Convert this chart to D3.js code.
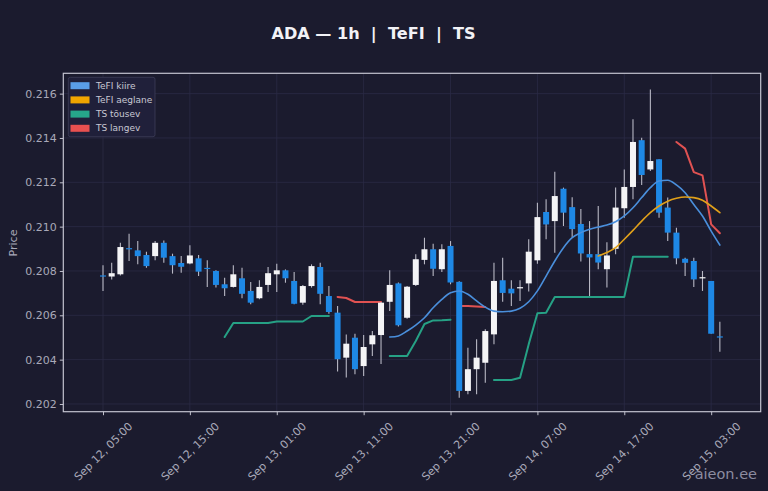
<!DOCTYPE html>
<html><head><meta charset="utf-8">
<script src="https://cdn.jsdelivr.net/npm/d3@7"></script>
<style>
html,body{margin:0;padding:0;background:#1b1b2e;}
svg{display:block;font-family:"DejaVu Sans",sans-serif;}
</style></head>
<body>
<svg id="c" width="768" height="491"></svg>
<script>
const title = "ADA \u2014 1h  |  TeFI  |  TS";
const startTime = "2025-09-12T05:00:00Z";
const tickLabels = ["Sep 12, 05:00","Sep 12, 15:00","Sep 13, 01:00","Sep 13, 11:00","Sep 13, 21:00","Sep 14, 07:00","Sep 14, 17:00","Sep 15, 03:00"];
const yTicks = [0.202,0.204,0.206,0.208,0.210,0.212,0.214,0.216];

const open = [0.20780,0.20775,0.20785,0.20903,0.20893,0.20872,0.20867,0.20927,0.20867,0.20836,
0.20834,0.20857,0.20814,0.20800,0.20740,0.20728,0.20767,0.20710,0.20677,0.20737,
0.20785,0.20803,0.20755,0.20657,0.20732,0.20818,0.20687,0.20612,0.20409,0.20499,
0.20371,0.20469,0.20511,0.20661,0.20744,0.20589,0.20737,0.20850,0.20898,0.20808,
0.20913,0.20751,0.20259,0.20357,0.20386,0.20514,0.20758,0.20720,0.20722,0.20744,
0.20848,0.21066,0.21025,0.21171,0.21088,0.21012,0.20876,0.20876,0.20808,0.20900,
0.21083,0.21179,0.21390,0.21258,0.21304,0.21086,0.20973,0.20855,0.20845,0.20768,
0.20755,0.20505];
const high = [0.20826,0.20837,0.20927,0.20968,0.20935,0.20887,0.20935,0.20938,0.20878,0.20867,
0.20916,0.20872,0.20848,0.20803,0.20770,0.20826,0.20815,0.20750,0.20758,0.20818,
0.20833,0.20807,0.20795,0.20737,0.20830,0.20837,0.20732,0.20642,0.20514,0.20517,
0.20511,0.20529,0.20660,0.20803,0.20748,0.20732,0.20875,0.20950,0.20923,0.20920,
0.20935,0.20754,0.20454,0.20492,0.20537,0.20837,0.20860,0.20758,0.20758,0.20943,
0.21108,0.21123,0.21248,0.21176,0.21133,0.21080,0.21025,0.21093,0.20930,0.21176,
0.21258,0.21484,0.21401,0.21619,0.21304,0.21131,0.20995,0.20860,0.20860,0.20800,
0.20755,0.20571];
const low = [0.20710,0.20762,0.20780,0.20845,0.20830,0.20815,0.20848,0.20837,0.20788,0.20792,
0.20830,0.20777,0.20728,0.20725,0.20687,0.20725,0.20677,0.20650,0.20672,0.20705,
0.20705,0.20747,0.20650,0.20648,0.20725,0.20650,0.20607,0.20346,0.20319,0.20334,
0.20326,0.20416,0.20380,0.20620,0.20550,0.20585,0.20732,0.20830,0.20777,0.20795,
0.20740,0.20228,0.20244,0.20244,0.20296,0.20469,0.20661,0.20642,0.20665,0.20707,
0.20833,0.20943,0.20882,0.21003,0.20953,0.20843,0.20687,0.20808,0.20725,0.20875,
0.21040,0.21123,0.21188,0.21251,0.21040,0.20935,0.20830,0.20777,0.20728,0.20710,
0.20517,0.20436];
const close = [0.20778,0.20790,0.20908,0.20898,0.20867,0.20822,0.20927,0.20860,0.20826,0.20819,
0.20870,0.20797,0.20810,0.20737,0.20722,0.20785,0.20697,0.20657,0.20728,0.20790,
0.20803,0.20767,0.20652,0.20732,0.20822,0.20697,0.20615,0.20402,0.20472,0.20357,
0.20457,0.20510,0.20657,0.20737,0.20555,0.20729,0.20853,0.20898,0.20810,0.20898,
0.20748,0.20259,0.20357,0.20409,0.20529,0.20755,0.20701,0.20699,0.20727,0.20887,
0.21043,0.21010,0.21138,0.21063,0.20989,0.20879,0.20861,0.20838,0.20870,0.21086,
0.21179,0.21382,0.21233,0.21296,0.21063,0.20973,0.20857,0.20837,0.20762,0.20772,
0.20517,0.20500];

const N = null;
const tefiFast = [N,N,N,N,N,N,N,N,N,N, N,N,N,N,N,N,N,N,N,N, N,N,N,N,N,N,N,N,N,N, N,N,N,
0.20502,0.20507,0.20529,0.20556,0.20589,0.20634,0.20672,0.20702,0.20710,0.20695,0.20665,
0.20637,0.20619,0.20616,0.20619,0.20632,0.20661,0.20710,0.20777,0.20845,0.20905,0.20950,
0.20973,0.20988,0.20998,0.21007,0.21022,0.21048,0.21085,0.21131,0.21176,0.21206,0.21209,
0.21188,0.21153,0.21100,0.21048,0.20980,0.20917];
const tefiSlow = [N,N,N,N,N,N,N,N,N,N, N,N,N,N,N,N,N,N,N,N, N,N,N,N,N,N,N,N,N,N,
N,N,N,N,N,N,N,N,N,N, N,N,N,N,N,N,N,N,N,N, N,N,N,N,N,N,N,
0.20868,0.20883,0.20905,0.20943,0.20983,0.21025,0.21063,0.21093,0.21115,0.21128,0.21134,
0.21131,0.21119,0.21093,0.21063];
const tsUp = [N,N,N,N,N,N,N,N,N,N, N,N,N,N,
0.20502,0.20565,0.20565,0.20565,0.20565,0.20565,0.20572,0.20572,0.20572,0.20572,
0.20597,0.20597,0.20597, N,N,N,N,N,N,
0.20417,0.20417,0.20417,0.20484,0.20561,0.20577,0.20578,0.20580, N,N,N,N,
0.20308,0.20308,0.20308,0.20318,0.20470,0.20609,0.20612,0.20683,0.20683,0.20683,
0.20683,0.20683,0.20683,0.20683,0.20683,0.20683,0.20864,0.20864,0.20864,0.20864,0.20864,
N,N,N,N,N,N];
const tsDown = [N,N,N,N,N,N,N,N,N,N, N,N,N,N,N,N,N,N,N,N, N,N,N,N,N,N,N,
0.20683,0.20678,0.20660,0.20660,0.20660,0.20660, N,N,N,N,N,N,N,N,
0.20642,0.20642,0.20640,0.20638, N,N,N,N,N,N,N,N,N,N, N,N,N,N,N,N,N,N,N,N,N,
0.21382,0.21352,0.21246,0.21231,0.21010,0.20970];

const legendItems = [
  {label:"TeFI kiire", color:"#5a9ee8"},
  {label:"TeFI aeglane", color:"#f0a500"},
  {label:"TS t\u00f5usev", color:"#26a68a"},
  {label:"TS langev", color:"#e85050"}
];

const svg = d3.select("#c");
const W = 768, H = 491;
const plot = {l:63.3, r:760.7, t:73.3, b:411.7};

const t0 = new Date(startTime);
const times = d3.utcHour.range(t0, d3.utcHour.offset(t0, open.length));
const HOUR = 3600e3;
const x = d3.scaleUtc()
  .domain([new Date(+t0 - 4.57*HOUR), new Date(+t0 + 75.7*HOUR)])
  .range([plot.l, plot.r]);
const y = d3.scaleLinear().domain([0.201652, 0.216917]).range([plot.b, plot.t]);

const parseTick = d3.utcParse("%Y %b %d, %H:%M");
const tickTimes = tickLabels.map(s => parseTick("2025 " + s));

svg.append("rect").attr("width",W).attr("height",H).attr("fill","#1b1b2e");

// grid
const g = svg.append("g");
g.selectAll(".gy").data(yTicks).join("line")
  .attr("x1",plot.l).attr("x2",plot.r)
  .attr("y1",d=>y(d)).attr("y2",d=>y(d))
  .attr("stroke","#2b2b45").attr("stroke-width",0.8);
g.selectAll(".gx").data(tickTimes).join("line")
  .attr("x1",d=>x(d)).attr("x2",d=>x(d))
  .attr("y1",plot.t).attr("y2",plot.b)
  .attr("stroke","#2b2b45").attr("stroke-width",0.8);

// axes
const yAxis = d3.axisLeft(y).tickValues(yTicks).tickFormat(d3.format(".3f")).tickSize(3.5).tickPadding(3);
const ya = svg.append("g").attr("transform",`translate(${plot.l},0)`).call(yAxis);
ya.select(".domain").remove();
ya.selectAll("line").attr("stroke","#c0c0cc");
ya.selectAll("text").attr("fill","#a9a9b9").attr("font-size",11).attr("font-family","DejaVu Sans");

const xAxis = d3.axisBottom(x).tickValues(tickTimes).tickFormat((d,i)=>tickLabels[i]).tickSize(3.5);
const xa = svg.append("g").attr("transform",`translate(0,${plot.b})`).call(xAxis);
xa.select(".domain").remove();
xa.selectAll("line").attr("stroke","#c0c0cc");
xa.selectAll("text")
  .attr("fill","#a9a9b9").attr("font-size",11).attr("font-family","DejaVu Sans")
  .attr("text-anchor","middle").attr("dominant-baseline","central")
  .attr("y",null).attr("dy",null)
  .attr("transform","translate(0,40) rotate(-45)");

// lines
const idx = d3.range(open.length);
function drawLine(arr, color, width, curve){
  const line = d3.line()
    .defined(i => arr[i] != null)
    .x(i => x(times[i])).y(i => y(arr[i]))
    .curve(curve);
  svg.append("path").datum(idx).attr("d",line)
    .attr("fill","none").attr("stroke",color).attr("stroke-width",width)
    .attr("stroke-linejoin","round").attr("stroke-linecap","round");
}
drawLine(tsUp, "#26a185", 2, d3.curveLinear);
drawLine(tsDown, "#e05252", 2, d3.curveLinear);

// candles
const bw = 6;
const cg = svg.append("g");
cg.selectAll("line.w").data(idx).join("line")
  .attr("x1",i=>x(times[i])).attr("x2",i=>x(times[i]))
  .attr("y1",i=>y(high[i])).attr("y2",i=>y(low[i]))
  .attr("stroke","#b8b8c4").attr("stroke-width",1.1);
cg.selectAll("rect.b").data(idx).join("rect")
  .attr("x",i=>x(times[i])-bw/2).attr("width",bw)
  .attr("y",i=>y(Math.max(open[i],close[i])))
  .attr("height",i=>Math.max(1.2, Math.abs(y(open[i])-y(close[i]))))
  .attr("fill",i=>close[i]>=open[i] ? "#f4f4f6" : "#1e88e5");

drawLine(tefiFast, "#4a8fdc", 1.6, d3.curveMonotoneX);
drawLine(tefiSlow, "#e0a01a", 1.6, d3.curveMonotoneX);

// frame
svg.append("rect").attr("x",plot.l).attr("y",plot.t)
  .attr("width",plot.r-plot.l).attr("height",plot.b-plot.t)
  .attr("fill","none").attr("stroke","#c4c4d0").attr("stroke-width",1.2);

// title
svg.append("text").attr("x",373.5).attr("y",39).attr("text-anchor","middle")
  .attr("fill","#f2f2f6").attr("font-size",16.1).attr("font-weight","bold")
  .attr("font-family","DejaVu Sans").style("white-space","pre").attr("xml:space","preserve")
  .text(title);

// y label
svg.append("text").attr("transform","translate(17,243) rotate(-90)")
  .attr("text-anchor","middle").attr("fill","#a9a9b9").attr("font-size",11)
  .text("Price");

// legend
const lg = svg.append("g");
lg.append("rect").attr("x",68.3).attr("y",77.3).attr("width",86.7).attr("height",59.4)
  .attr("rx",2).attr("fill","#20203a").attr("stroke","#3e3e58").attr("stroke-width",0.8);
legendItems.forEach((d,i)=>{
  const cy = 85.7 + i*14.2;
  lg.append("rect").attr("x",70.5).attr("y",cy-3.5).attr("width",19).attr("height",7).attr("fill",d.color);
  lg.append("text").attr("x",96).attr("y",cy).attr("dominant-baseline","central")
    .attr("fill","#c8c8d4").attr("font-size",9).text(d.label);
});

// watermark
svg.append("text").attr("x",757).attr("y",479).attr("text-anchor","end")
  .attr("fill","#8c8ca0").attr("font-size",14.5).attr("font-family","DejaVu Sans")
  .text("aieon.ee");
</script>
</body></html>
